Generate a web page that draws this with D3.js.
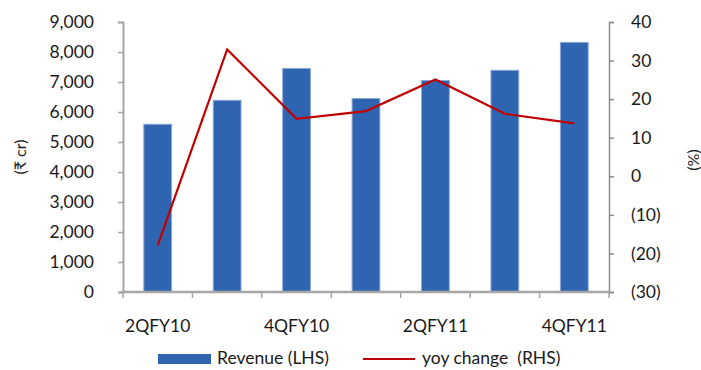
<!DOCTYPE html>
<html>
<head>
<meta charset="utf-8">
<script src="https://cdn.jsdelivr.net/npm/d3@7"></script>
<style>
  html, body { margin: 0; padding: 0; background: #fff; }
  svg text { font-family: Lato, "Noto Sans", "DejaVu Sans", sans-serif; fill: #1a1a1a; }
</style>
</head>
<body>
<svg id="chart" width="701" height="370"></svg>
<script>
// Quarterly revenue (₹ cr) and its year-on-year change (%)
const categories = ["2QFY10", "3QFY10", "4QFY10", "1QFY11", "2QFY11", "3QFY11", "4QFY11"];
const revenue = [5590, 6390, 7450, 6450, 7050, 7390, 8320];
const yoyChange = [-17.9, 32.9, 14.9, 16.9, 25.1, 16.2, 13.7];
const leftTicks = [0, 1000, 2000, 3000, 4000, 5000, 6000, 7000, 8000, 9000];
const rightTicks = [-30, -20, -10, 0, 10, 20, 30, 40];
const shownLabels = ["2QFY10", "4QFY10", "2QFY11", "4QFY11"];

const svg = d3.select("#chart");
const plot = { left: 123, right: 609, top: 22, bottom: 292 };
const fontSize = 17.5;

const x = d3.scaleBand()
  .domain(categories)
  .range([plot.left, plot.right])
  .paddingInner(0.6)
  .paddingOuter(0.3);

const yLeft = d3.scaleLinear().domain([0, 9000]).range([plot.bottom, plot.top]);
const yRight = d3.scaleLinear().domain([-30, 40]).range([plot.bottom, plot.top]);

// Bars
svg.append("g")
  .selectAll("rect")
  .data(revenue)
  .join("rect")
  .attr("x", (d, i) => x(categories[i]))
  .attr("y", d => yLeft(d))
  .attr("width", x.bandwidth())
  .attr("height", d => plot.bottom - yLeft(d))
  .attr("fill", "#2f65b0")
  .attr("stroke", "#8aa8d6")
  .attr("stroke-width", 1);

// Left axis
const leftAxis = d3.axisLeft(yLeft)
  .tickValues(leftTicks)
  .tickFormat(d3.format(","))
  .tickSize(5)
  .tickPadding(24);
const gL = svg.append("g").attr("transform", `translate(${plot.left},0)`).call(leftAxis);
gL.select(".domain").attr("stroke", "#a6a6a6").attr("stroke-width", 2);
gL.selectAll(".tick line").attr("stroke", "#a6a6a6").attr("stroke-width", 1.5);
gL.selectAll(".tick text").attr("font-size", fontSize).style("font-family", "Lato, sans-serif").attr("fill", "#1a1a1a");

// Right axis
const fmtPct = d => d < 0 ? `(${Math.abs(d)})` : `${d}`;
const rightAxis = d3.axisRight(yRight)
  .tickValues(rightTicks)
  .tickFormat(fmtPct)
  .tickSize(5)
  .tickPadding(17);
const gR = svg.append("g").attr("transform", `translate(${plot.right},0)`).call(rightAxis);
gR.select(".domain").attr("stroke", "#8c8c8c").attr("stroke-width", 1.5);
gR.selectAll(".tick line").attr("stroke", "#8c8c8c").attr("stroke-width", 1.5);
gR.selectAll(".tick text").attr("font-size", fontSize).style("font-family", "Lato, sans-serif").attr("fill", "#1a1a1a");

// Bottom axis: ticks at category boundaries, labels on alternate quarters
const boundaries = d3.range(categories.length + 1).map(i => plot.left + i * x.step());
const gB = svg.append("g");
gB.append("line")
  .attr("x1", plot.left - 2).attr("x2", plot.right + 2)
  .attr("y1", plot.bottom).attr("y2", plot.bottom)
  .attr("stroke", "#a6a6a6").attr("stroke-width", 2.5);
gB.selectAll("line.tk")
  .data(boundaries)
  .join("line")
  .attr("class", "tk")
  .attr("x1", d => d).attr("x2", d => d)
  .attr("y1", plot.bottom).attr("y2", plot.bottom + 6)
  .attr("stroke", "#a6a6a6").attr("stroke-width", 1.5);
gB.selectAll("text")
  .data(shownLabels)
  .join("text")
  .attr("x", d => x(d) + x.bandwidth() / 2)
  .attr("y", 332)
  .attr("text-anchor", "middle")
  .attr("font-size", fontSize)
  .text(d => d);

// Line series
const line = d3.line()
  .x((d, i) => x(categories[i]) + x.bandwidth() / 2)
  .y(d => yRight(d));
svg.append("path")
  .datum(yoyChange)
  .attr("d", line)
  .attr("fill", "none")
  .attr("stroke", "#c00000")
  .attr("stroke-width", 2.2)
  .attr("stroke-linejoin", "miter");

// Axis titles
svg.append("text")
  .attr("transform", "translate(26,157) rotate(-90)")
  .attr("text-anchor", "middle")
  .attr("font-size", 16)
  .style("font-family", "Lato, 'Noto Sans', 'DejaVu Sans', sans-serif")
  .text("(₹ cr)");
svg.append("text")
  .attr("transform", "translate(699,160) rotate(-90)")
  .attr("text-anchor", "middle")
  .attr("font-size", 16)
  .text("(%)");

// Legend
const lg = svg.append("g");
lg.append("rect")
  .attr("x", 158).attr("y", 354).attr("width", 53).attr("height", 10)
  .attr("fill", "#2f65b0");
lg.append("text")
  .attr("x", 217).attr("y", 364)
  .attr("font-size", fontSize)
  .text("Revenue (LHS)");
lg.append("line")
  .attr("x1", 363).attr("x2", 415).attr("y1", 359).attr("y2", 359)
  .attr("stroke", "#c00000").attr("stroke-width", 2);
lg.append("text")
  .attr("x", 422).attr("y", 364)
  .attr("font-size", fontSize)
  .attr("xml:space", "preserve")
  .style("white-space", "pre")
  .text("yoy change  (RHS)");
</script>
</body>
</html>
